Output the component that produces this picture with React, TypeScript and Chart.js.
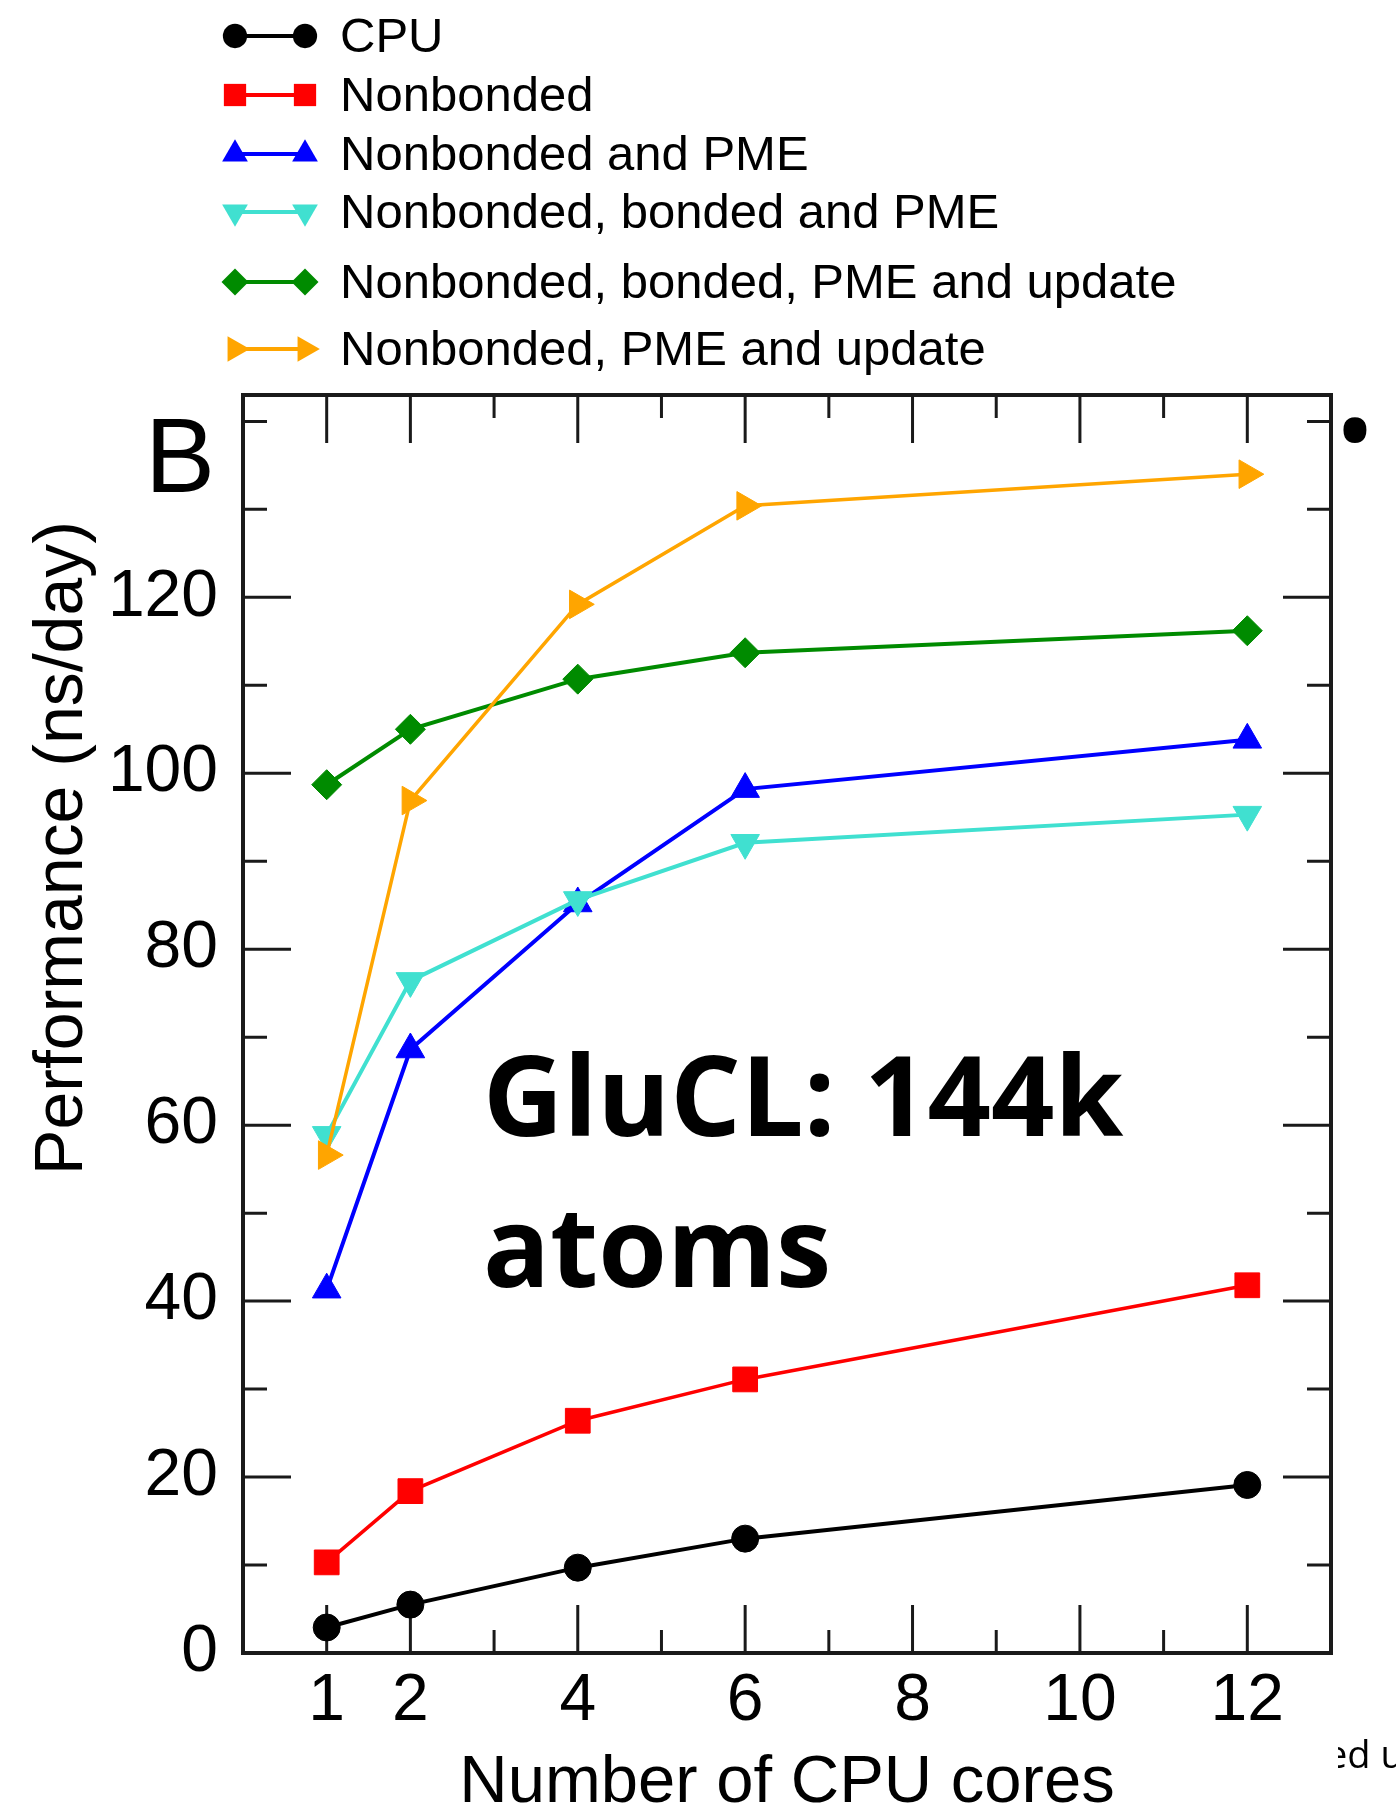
import React, { useEffect, useRef } from "react";
import { Chart, registerables } from "chart.js";

Chart.register(...registerables);

// ---------- data ----------
const coreCounts = [1, 2, 4, 6, 12];
const seriesNames = [
  "CPU",
  "Nonbonded",
  "Nonbonded and PME",
  "Nonbonded, bonded and PME",
  "Nonbonded, bonded, PME and update",
  "Nonbonded, PME and update",
];
const cpuValues = [2.9, 5.5, 9.7, 13.0, 19.1];
const nonbondedValues = [10.3, 18.4, 26.4, 31.1, 41.8];
const nonbondedPmeValues = [41.3, 68.6, 85.2, 98.2, 103.8];
const nonbondedBondedPmeValues = [58.9, 76.4, 85.6, 92.1, 95.3];
const nonbondedBondedPmeUpdateValues = [98.7, 105.0, 110.7, 113.7, 116.2];
const nonbondedPmeUpdateValues = [56.6, 96.9, 119.2, 130.4, 134.0];
const seriesValues = [
  cpuValues,
  nonbondedValues,
  nonbondedPmeValues,
  nonbondedBondedPmeValues,
  nonbondedBondedPmeUpdateValues,
  nonbondedPmeUpdateValues,
];
const xTickLabels = [1, 2, 4, 6, 8, 10, 12];
const xMinorTicks = [3, 5, 7, 9, 11];
const yTickLabels = [0, 20, 40, 60, 80, 100, 120];
const yMinorTicks = [10, 30, 50, 70, 90, 110, 130, 140];
const xAxisTitle = "Number of CPU cores";
const yAxisTitle = "Performance (ns/day)";
const panelLetter = "B";
const noteLines = ["GluCL: 144k", "atoms"];

// ---------- styles ----------
const seriesColors = ["#000000", "#ff0000", "#0000ff", "#40e0d0", "#008b00", "#ffa500"];
const seriesPointStyles = ["circle", "rect", "triangle", "triangle", "rectRot", "triangle"];
const seriesPointRotations = [0, 0, 0, 180, 0, 90];
const seriesPointRadii = [13.5, 17.5, 16.5, 16.5, 15, 16.5];
const seriesLineWidths = [4, 3.5, 4, 4, 4, 3.5];
const legendRowsY = [36, 95, 154, 212, 282, 349];

const SANS = '"Liberation Sans", Arial, Helvetica, sans-serif';
const W = 1396;
const H = 1809;

function drawMarker(ctx: CanvasRenderingContext2D, style: string, x: number, y: number, r: number, rotDeg: number) {
  const rad = (rotDeg * Math.PI) / 180;
  ctx.beginPath();
  if (style === "circle") {
    ctx.arc(x, y, r, 0, Math.PI * 2);
  } else if (style === "rect") {
    const s = r * Math.SQRT1_2;
    ctx.rect(x - s, y - s, 2 * s, 2 * s);
  } else if (style === "rectRot") {
    ctx.moveTo(x, y - r);
    ctx.lineTo(x + r, y);
    ctx.lineTo(x, y + r);
    ctx.lineTo(x - r, y);
    ctx.closePath();
  } else {
    let a = rad;
    ctx.moveTo(x + Math.sin(a) * r, y - Math.cos(a) * r);
    a += (2 * Math.PI) / 3;
    ctx.lineTo(x + Math.sin(a) * r, y - Math.cos(a) * r);
    a += (2 * Math.PI) / 3;
    ctx.lineTo(x + Math.sin(a) * r, y - Math.cos(a) * r);
    ctx.closePath();
  }
  ctx.fill();
}

const decorPlugin = {
  id: "decor",
  beforeDatasetsDraw(chart: any) {
    const { ctx, chartArea: a, scales } = chart;
    const xs = scales.x;
    const ys = scales.y;
    ctx.save();
    ctx.strokeStyle = "#1a1a1a";
    ctx.lineWidth = 3;
    ctx.beginPath();
    const xt = (v: number, len: number) => {
      const px = xs.getPixelForValue(v);
      ctx.moveTo(px, a.bottom);
      ctx.lineTo(px, a.bottom - len);
      ctx.moveTo(px, a.top);
      ctx.lineTo(px, a.top + len);
    };
    const yt = (v: number, len: number) => {
      const py = ys.getPixelForValue(v);
      ctx.moveTo(a.left, py);
      ctx.lineTo(a.left + len, py);
      ctx.moveTo(a.right, py);
      ctx.lineTo(a.right - len, py);
    };
    xTickLabels.forEach((v) => xt(v, 48));
    xMinorTicks.forEach((v) => xt(v, 23));
    yTickLabels.forEach((v) => yt(v, 48));
    yMinorTicks.forEach((v) => yt(v, 24));
    ctx.stroke();
    ctx.restore();
  },
  afterDraw(chart: any) {
    const { ctx, chartArea: a } = chart;
    ctx.save();
    // frame
    ctx.strokeStyle = "#1a1a1a";
    ctx.lineWidth = 4;
    ctx.strokeRect(a.left, a.top, a.right - a.left, a.bottom - a.top);

    // legend
    ctx.font = `49px ${SANS}`;
    ctx.textBaseline = "middle";
    ctx.textAlign = "left";
    seriesNames.forEach((name, i) => {
      const y = legendRowsY[i];
      ctx.strokeStyle = seriesColors[i];
      ctx.lineWidth = 4;
      ctx.beginPath();
      ctx.moveTo(235, y);
      ctx.lineTo(305, y);
      ctx.stroke();
      ctx.fillStyle = seriesColors[i];
      const r = seriesPointRadii[i] * 0.9;
      drawMarker(ctx, seriesPointStyles[i], 235, y, r, seriesPointRotations[i]);
      drawMarker(ctx, seriesPointStyles[i], 305, y, r, seriesPointRotations[i]);
      ctx.fillStyle = "#000";
      ctx.fillText(name, 340, y + 2);
    });

    // axis titles
    ctx.fillStyle = "#000";
    ctx.font = `67px ${SANS}`;
    ctx.textAlign = "center";
    ctx.textBaseline = "alphabetic";
    ctx.fillText(xAxisTitle, (a.left + a.right) / 2, 1802);
    ctx.save();
    ctx.translate(82, 848);
    ctx.rotate(-Math.PI / 2);
    ctx.font = `68px ${SANS}`;
    ctx.fillText(yAxisTitle, 0, 0);
    ctx.restore();

    // panel letter
    ctx.textAlign = "left";
    ctx.font = `105px ${SANS}`;
    ctx.fillText(panelLetter, 145, 492);

    // note
    ctx.font = `bold 111px "Open Sans", "Noto Sans", sans-serif`;
    ctx.fillText(noteLines[0], 483, 1136);
    ctx.fillText(noteLines[1], 483, 1287);

    // slide fragments
    ctx.font = `110px "Open Sans", sans-serif`;
    ctx.textAlign = "center";
    ctx.textBaseline = "alphabetic";
    const m = ctx.measureText("\u2022");
    const off = (m.actualBoundingBoxAscent - m.actualBoundingBoxDescent) / 2;
    ctx.fillText("\u2022", 1355, 430 + off);

    ctx.save();
    ctx.beginPath();
    ctx.rect(1338, 1700, W - 1338, 100);
    ctx.clip();
    ctx.textAlign = "left";
    ctx.font = `38px "Open Sans", sans-serif`;
    ctx.fillText("ed u", 1326, 1768);
    ctx.restore();

    ctx.restore();
  },
};

export default function App() {
  const ref = useRef<HTMLCanvasElement | null>(null);

  useEffect(() => {
    document.body.style.margin = "0";
    document.body.style.overflow = "hidden";
    document.body.style.background = "#fff";
    const canvas = ref.current;
    if (!canvas) return;
    const n = seriesNames.length;
    const chart = new Chart(canvas, {
      type: "line",
      data: {
        datasets: seriesNames.map((name, i) => ({
          label: name,
          data: coreCounts.map((c, j) => ({ x: c, y: seriesValues[i][j] })),
          borderColor: seriesColors[i],
          backgroundColor: seriesColors[i],
          pointBackgroundColor: seriesColors[i],
          pointBorderColor: seriesColors[i],
          pointBorderWidth: 1,
          pointStyle: seriesPointStyles[i] as any,
          pointRotation: seriesPointRotations[i],
          pointRadius: seriesPointRadii[i],
          borderWidth: seriesLineWidths[i],
          tension: 0,
          fill: false,
          order: n - 1 - i,
          clip: false as any,
        })),
      },
      options: {
        animation: false,
        responsive: false,
        devicePixelRatio: 1,
        layout: { padding: { left: 0, right: 65, top: 395, bottom: 0 } },
        plugins: { legend: { display: false }, tooltip: { enabled: false } },
        scales: {
          x: {
            type: "linear",
            min: 0,
            max: 13,
            afterBuildTicks: (s: any) => {
              s.ticks = xTickLabels.map((v) => ({ value: v }));
            },
            afterFit: (s: any) => {
              s.height = 156;
            },
            grid: { display: false, drawTicks: false, tickLength: 0 },
            border: { display: false },
            ticks: {
              color: "#000",
              font: { family: SANS, size: 66 },
              padding: 9,
              autoSkip: false,
              maxRotation: 0,
              minRotation: 0,
            },
          },
          y: {
            type: "linear",
            min: 0,
            max: 143,
            afterBuildTicks: (s: any) => {
              s.ticks = yTickLabels.map((v) => ({ value: v }));
            },
            afterFit: (s: any) => {
              s.width = 243;
            },
            grid: { display: false, drawTicks: false, tickLength: 0 },
            border: { display: false },
            ticks: {
              color: "#000",
              font: { family: SANS, size: 66 },
              padding: 25,
              autoSkip: false,
            },
          },
        },
      },
      plugins: [decorPlugin],
    });
    let alive = true;
    if ((document as any).fonts && (document as any).fonts.ready) {
      (document as any).fonts.ready.then(() => {
        if (alive) chart.update();
      });
    }
    return () => {
      alive = false;
      chart.destroy();
    };
  }, []);

  return (
    <div style={{ width: W, height: H, background: "#fff" }}>
      <canvas ref={ref} width={W} height={H} style={{ display: "block", width: W, height: H }} />
    </div>
  );
}
